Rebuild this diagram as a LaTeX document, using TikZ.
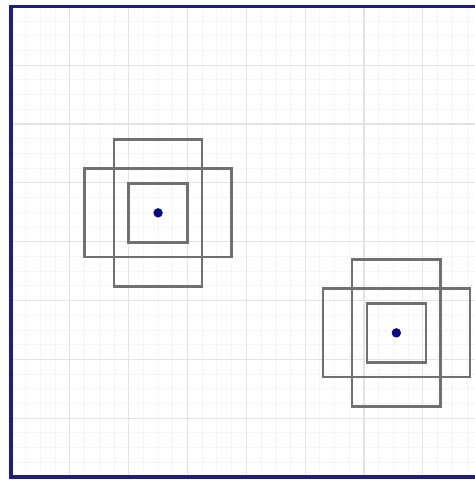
\documentclass[tikz,border=0pt]{standalone}
\usepackage{tikz}
\usetikzlibrary{positioning}
\definecolor{framecolor}{RGB}{28,28,140}
\definecolor{boxcolor}{RGB}{112,112,112}
\definecolor{dotcolor}{RGB}{8,8,140}

\begin{document}
\begin{tikzpicture}[
    minorgrid/.style={draw=gray!8, line width=0.4pt, step=0.25},
    majorgrid/.style={draw=gray!22, line width=0.5pt, step=1},
    frame/.style={draw=framecolor, line width=1.7pt},
    box/.style={draw=boxcolor, line width=1.2pt},
    centre/.style={circle, fill=dotcolor, inner sep=0pt, minimum size=0.16cm}
]
\useasboundingbox (-0.187,-0.051) rectangle (7.887,8.108);

% Grid
\draw[minorgrid] (0,0) grid (8,8);
\draw[majorgrid] (0,0) grid (8,8);

% Frame
\draw[frame] (0,0) rectangle (8,8);

% Boxes round each centre
\foreach \cx/\cy/\name in {2.5/4.49/left, 6.55/2.45/right} {
  \draw[box] (\cx-0.75,\cy-1.25) rectangle (\cx+0.75,\cy+1.25);
  \draw[box] (\cx-1.25,\cy-0.75) rectangle (\cx+1.25,\cy+0.75);
  \draw[box] (\cx-0.5,\cy-0.5) rectangle (\cx+0.5,\cy+0.5);
  \node[centre] (\name) at (\cx,\cy) {};
}

\end{tikzpicture}
\end{document}
